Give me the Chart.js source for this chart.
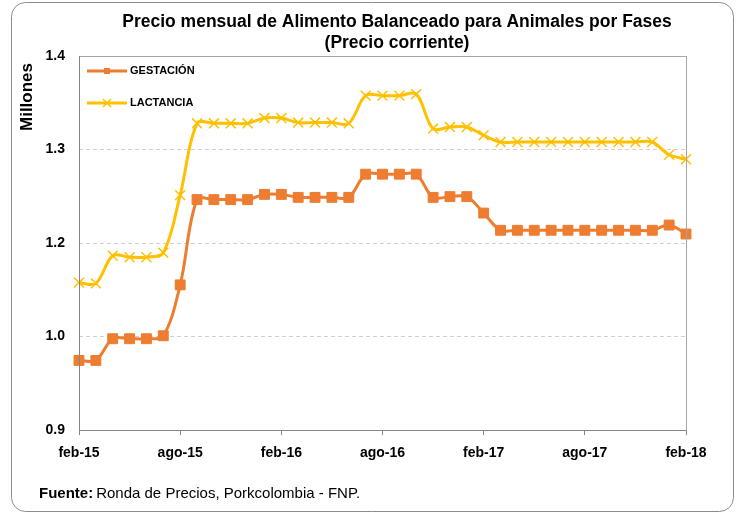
<!DOCTYPE html>
<html>
<head>
<meta charset="utf-8">
<script src="https://cdn.jsdelivr.net/npm/chart.js@4"></script>
<style>
  html, body { margin: 0; padding: 0; background: #fff; }
  #wrap { position: relative; width: 742px; height: 514px; }
</style>
</head>
<body>
<div id="wrap"><canvas id="myChart" width="742" height="514"></canvas></div>
<script>
// meses feb-15 .. feb-18
const categories = ['feb-15','mar-15','abr-15','may-15','jun-15','jul-15','ago-15','sep-15','oct-15','nov-15','dic-15',
  'ene-16','feb-16','mar-16','abr-16','may-16','jun-16','jul-16','ago-16','sep-16','oct-16','nov-16','dic-16',
  'ene-17','feb-17','mar-17','abr-17','may-17','jun-17','jul-17','ago-17','sep-17','oct-17','nov-17','dic-17',
  'ene-18','feb-18'];

const gestacion = [0.993, 0.993, 1.022, 1.022, 1.022, 1.026, 1.094, 1.208, 1.208, 1.208, 1.208,
  1.215, 1.215, 1.211, 1.211, 1.211, 1.211, 1.242, 1.242, 1.242, 1.242, 1.211, 1.212,
  1.212, 1.190, 1.167, 1.167, 1.167, 1.167, 1.167, 1.167, 1.167, 1.167, 1.167, 1.167,
  1.174, 1.162];

const lactancia = [1.097, 1.096, 1.133, 1.131, 1.131, 1.137, 1.214, 1.310, 1.310, 1.310, 1.310,
  1.317, 1.317, 1.311, 1.311, 1.311, 1.310, 1.347, 1.347, 1.347, 1.349, 1.303, 1.305,
  1.305, 1.294, 1.285, 1.285, 1.285, 1.285, 1.285, 1.285, 1.285, 1.285, 1.285, 1.285,
  1.268, 1.262];

const yTickLabels = ['0.9', '1.0', '1.2', '1.3', '1.4'];
const xLabelEvery = 6;

const FONT = '"Liberation Sans", Arial, sans-serif';
const NARANJA = '#ED7D31';
const AMARILLO = '#FFC000';

// marco, titulos, leyenda y fuente
const decor = {
  id: 'decor',
  afterDraw(chart) {
    const ctx = chart.ctx;
    const a = chart.chartArea;
    ctx.save();

    // borde redondeado exterior
    const x0 = 11.5, y0 = 2.5, x1 = 733.5, y1 = 511.5, r = 14;
    ctx.beginPath();
    ctx.moveTo(x0 + r, y0);
    ctx.lineTo(x1 - r, y0);
    ctx.arcTo(x1, y0, x1, y0 + r, r);
    ctx.lineTo(x1, y1 - r);
    ctx.arcTo(x1, y1, x1 - r, y1, r);
    ctx.lineTo(x0 + r, y1);
    ctx.arcTo(x0, y1, x0, y1 - r, r);
    ctx.lineTo(x0, y0 + r);
    ctx.arcTo(x0, y0, x0 + r, y0, r);
    ctx.closePath();
    ctx.strokeStyle = '#8c8c8c';
    ctx.lineWidth = 1;
    ctx.stroke();

    // area del grafico
    ctx.strokeStyle = '#a6a6a6';
    ctx.strokeRect(a.left + 0.5, a.top + 0.5, a.right - a.left, a.bottom - a.top);
    ctx.strokeStyle = '#868686';
    ctx.beginPath();
    ctx.moveTo(a.left + 0.5, a.top);
    ctx.lineTo(a.left + 0.5, a.bottom + 0.5);
    ctx.lineTo(a.right, a.bottom + 0.5);
    ctx.stroke();

    // titulo
    ctx.fillStyle = '#000';
    ctx.textAlign = 'center';
    ctx.textBaseline = 'middle';
    ctx.font = 'bold 17.5px ' + FONT;
    ctx.fillText('Precio mensual de Alimento Balanceado para Animales por Fases', 397, 22);
    ctx.fillText('(Precio corriente)', 397, 43);

    // titulo eje y
    ctx.save();
    ctx.translate(27, 97);
    ctx.rotate(-Math.PI / 2);
    ctx.font = 'bold 17px ' + FONT;
    ctx.fillText('Millones', 0, 0);
    ctx.restore();

    // leyenda
    const items = [
      { label: 'GESTACIÓN', color: NARANJA, y: 71, mark: 'rect' },
      { label: 'LACTANCIA', color: AMARILLO, y: 103, mark: 'x' }
    ];
    items.forEach(it => {
      ctx.strokeStyle = it.color;
      ctx.lineWidth = 3;
      ctx.beginPath();
      ctx.moveTo(87, it.y);
      ctx.lineTo(127, it.y);
      ctx.stroke();
      if (it.mark === 'rect') {
        ctx.fillStyle = it.color;
        ctx.fillRect(104, it.y - 3, 6, 6);
      } else {
        ctx.lineWidth = 1.5;
        ctx.beginPath();
        ctx.moveTo(103, it.y - 4); ctx.lineTo(111, it.y + 4);
        ctx.moveTo(111, it.y - 4); ctx.lineTo(103, it.y + 4);
        ctx.stroke();
      }
      ctx.fillStyle = '#000';
      ctx.textAlign = 'left';
      ctx.font = 'bold 11px ' + FONT;
      ctx.fillText(it.label, 130, it.y);
    });

    // fuente
    ctx.textAlign = 'left';
    ctx.font = 'bold 15px ' + FONT;
    ctx.fillText('Fuente:', 39, 494);
    const w = ctx.measureText('Fuente:').width;
    ctx.font = '15px ' + FONT;
    ctx.fillText('Ronda de Precios, Porkcolombia - FNP.', 39 + w + 3, 494);

    ctx.restore();
  }
};

const ctx = document.getElementById('myChart').getContext('2d');

new Chart(ctx, {
  type: 'line',
  data: {
    labels: categories,
    datasets: [
      {
        label: 'GESTACIÓN',
        data: gestacion,
        borderColor: NARANJA,
        backgroundColor: NARANJA,
        borderWidth: 3,
        tension: 0.35,
        pointStyle: 'rect',
        pointRadius: 7,
        pointBorderWidth: 1,
        pointBackgroundColor: NARANJA,
        pointBorderColor: NARANJA,
        clip: false
      },
      {
        label: 'LACTANCIA',
        data: lactancia,
        borderColor: AMARILLO,
        backgroundColor: AMARILLO,
        borderWidth: 3,
        tension: 0.35,
        pointStyle: 'crossRot',
        pointRadius: 7,
        pointBorderWidth: 1.5,
        pointBorderColor: AMARILLO,
        clip: false
      }
    ]
  },
  options: {
    responsive: false,
    animation: false,
    devicePixelRatio: 1,
    layout: { padding: { left: 0, top: 56, right: 56, bottom: 44 } },
    plugins: {
      legend: { display: false },
      title: { display: false },
      tooltip: { enabled: false }
    },
    scales: {
      x: {
        type: 'category',
        offset: false,
        border: { display: false },
        grid: {
          drawOnChartArea: false,
          drawTicks: true,
          tickLength: 5,
          color: (c) => (c.index % xLabelEvery === 0 ? '#868686' : 'transparent')
        },
        ticks: {
          autoSkip: false,
          maxRotation: 0,
          minRotation: 0,
          padding: 10,
          color: '#000',
          font: { family: FONT, size: 14, weight: 'bold' },
          callback: (value, index) => (index % xLabelEvery === 0 ? categories[index] : '')
        },
        afterFit: (s) => { s.height = 40; }
      },
      y: {
        type: 'linear',
        min: 0.9,
        max: 1.4,
        border: { display: false, dash: [4, 3] },
        grid: {
          drawTicks: false,
          borderDash: [4, 3],
          color: (c) => (c.index === 0 || c.index === yTickLabels.length - 1 ? 'transparent' : '#d0d0d0')
        },
        ticks: {
          stepSize: 0.125,
          padding: 14,
          color: '#000',
          font: { family: FONT, size: 14, weight: 'bold' },
          callback: (value, index) => yTickLabels[index]
        },
        afterFit: (s) => { s.width = 79; }
      }
    }
  },
  plugins: [decor]
});
</script>
</body>
</html>
